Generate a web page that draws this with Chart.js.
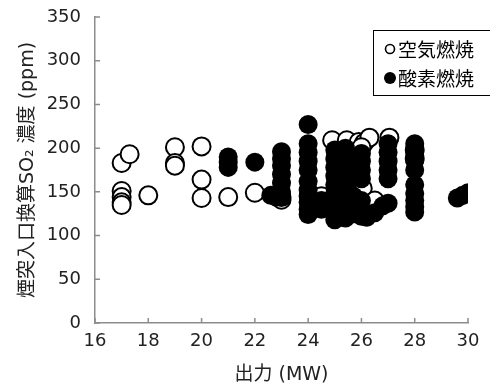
<!DOCTYPE html>
<html>
<head>
<meta charset="utf-8">
<script src="https://cdn.jsdelivr.net/npm/chart.js@4/dist/chart.umd.min.js"></script>
<style>
  html, body { margin: 0; padding: 0; background: #fff; }
  canvas { display: block; }
</style>
</head>
<body>
<canvas id="chart" width="490" height="387"></canvas>
<script>
// series names (legend)
const seriesNames = ['空気燃焼', '酸素燃焼'];

// [出力 MW, SO2 ppm]
const airPoints = [
  [17.0, 183], [17.3, 193], [17.0, 151], [17.0, 144], [17.0, 138], [17.0, 135],
  [18.0, 146], [19.0, 201], [19.0, 183], [19.0, 180],
  [20.0, 202], [20.0, 164], [20.0, 143], [21.0, 144], [22.0, 149],
  [23.0, 141], [23.0, 144], [24.9, 209], [25.45, 209], [25.9, 207],
  [26.1, 206], [26.3, 212], [26.0, 201], [27.05, 212], [26.05, 154],
  [28.0, 198], [28.0, 188], [25.5, 150], [24.5, 145], [26.5, 140]
];
const oxyPoints = [
  [21.0, 190], [21.0, 184], [21.0, 178], [22.0, 184], [22.6, 146], [22.8, 144],
  [23.0, 196], [23.0, 188], [23.0, 180], [23.0, 170], [23.0, 160], [23.0, 150], [23.0, 145],
  [24.0, 227],
  [24.0, 205], [24.0, 195], [24.0, 185], [24.0, 175], [24.0, 162], [24.0, 152],
  [24.0, 145], [24.0, 138], [24.0, 130], [24.0, 124], [24.5, 140], [24.5, 130],
  [25.0, 198], [25.0, 188], [25.0, 178], [25.0, 168], [25.0, 158], [25.0, 148],
  [25.0, 138], [25.0, 128], [25.0, 118],
  [25.4, 200], [25.4, 190], [25.4, 180], [25.4, 170], [25.4, 160], [25.4, 150],
  [25.4, 140], [25.4, 130], [25.4, 120],
  [25.7, 145], [25.7, 135], [25.7, 125],
  [26.0, 194], [26.0, 185], [26.0, 175], [26.0, 165], [26.0, 140], [26.0, 130], [26.0, 122],
  [26.2, 121], [26.5, 126], [26.8, 134], [27.0, 137],
  [27.0, 205], [27.0, 195], [27.0, 185], [27.0, 175], [27.0, 165],
  [28.0, 205], [28.0, 196], [28.0, 186], [28.0, 175], [28.0, 158], [28.0, 148],
  [28.0, 140], [28.0, 133], [28.0, 127],
  [29.6, 143], [29.8, 146], [30.0, 149]
];

// axis ranges: [min, max, step]
const xRange = [16, 30, 2];
const yRange = [0, 350, 50];

const numFont = "'DejaVu Sans', 'Noto Sans CJK JP', sans-serif";
const jpFont = "'Noto Sans CJK JP', sans-serif";
const axisColor = '#8c8c8c';

const toXY = arr => arr.map(p => ({ x: p[0], y: p[1] }));

// small tick marks pointing into the plot
const innerTicks = {
  id: 'innerTicks',
  afterDraw(chart) {
    const { ctx, chartArea } = chart;
    const xs = chart.scales.x, ys = chart.scales.y;
    ctx.save();
    ctx.strokeStyle = axisColor;
    ctx.lineWidth = 1.5;
    ctx.beginPath();
    xs.ticks.forEach(t => {
      const px = xs.getPixelForValue(t.value);
      ctx.moveTo(px, chartArea.bottom);
      ctx.lineTo(px, chartArea.bottom - 5);
    });
    ys.ticks.forEach(t => {
      const py = ys.getPixelForValue(t.value);
      ctx.moveTo(chartArea.left, py);
      ctx.lineTo(chartArea.left + 5, py);
    });
    ctx.stroke();
    ctx.restore();
  }
};

// boxed legend in the top right corner
const boxLegend = {
  id: 'boxLegend',
  afterDraw(chart) {
    const ctx = chart.ctx;
    ctx.save();
    ctx.strokeStyle = '#000';
    ctx.lineWidth = 1;
    ctx.strokeRect(373.5, 30.5, 130, 65);
    ctx.font = '19px ' + jpFont;
    ctx.textBaseline = 'middle';
    ctx.fillStyle = '#000';
    const rows = [49, 78];
    seriesNames.forEach((name, i) => {
      const y = rows[i];
      ctx.beginPath();
      if (i === 0) {
        ctx.arc(390, y, 4.5, 0, Math.PI * 2);
        ctx.lineWidth = 1.6;
        ctx.stroke();
      } else {
        ctx.arc(390, y, 6, 0, Math.PI * 2);
        ctx.fill();
      }
      ctx.fillText(name, 398, y + 1);
    });
    ctx.restore();
  }
};

new Chart(document.getElementById('chart'), {
  type: 'scatter',
  data: {
    datasets: [
      {
        label: seriesNames[0],
        data: toXY(airPoints),
        order: 1,
        pointRadius: 9,
        pointHoverRadius: 9,
        pointBorderWidth: 2,
        pointBorderColor: '#000',
        pointBackgroundColor: '#fff'
      },
      {
        label: seriesNames[1],
        data: toXY(oxyPoints),
        order: 0,
        pointRadius: 9.5,
        pointHoverRadius: 9.5,
        pointBorderWidth: 0,
        pointBorderColor: '#000',
        pointBackgroundColor: '#000'
      }
    ]
  },
  options: {
    responsive: false,
    animation: false,
    layout: { padding: { top: 17, right: 22, left: 0, bottom: 0 } },
    plugins: {
      legend: { display: false },
      tooltip: { enabled: false }
    },
    scales: {
      x: {
        type: 'linear',
        min: xRange[0],
        max: xRange[1],
        grid: { display: false, drawTicks: false },
        border: { display: true, color: axisColor, width: 1.5 },
        ticks: {
          stepSize: xRange[2],
          padding: 8,
          color: '#222',
          font: { family: numFont, size: 18 },
          maxRotation: 0
        },
        title: {
          display: true,
          text: '出力 (MW)',
          color: '#222',
          font: { family: numFont, size: 19 },
          padding: { top: 0, bottom: 1 }
        },
        afterFit(scale) {
          scale.height = 64;
          scale.paddingLeft = 0;
          scale.paddingRight = 0;
        }
      },
      y: {
        type: 'linear',
        min: yRange[0],
        max: yRange[1],
        grid: { display: false, drawTicks: false },
        border: { display: true, color: axisColor, width: 1.5 },
        ticks: {
          stepSize: yRange[2],
          padding: 14,
          color: '#222',
          font: { family: numFont, size: 18 }
        },
        title: {
          display: true,
          text: '煙突入口換算SO₂ 濃度 (ppm)',
          color: '#222',
          font: { family: numFont, size: 19 },
          padding: { top: 17, bottom: 0 }
        },
        afterFit(scale) {
          scale.width = 95;
          scale.paddingTop = 0;
          scale.paddingBottom = 0;
        }
      }
    }
  },
  plugins: [innerTicks, boxLegend]
});
</script>
</body>
</html>
